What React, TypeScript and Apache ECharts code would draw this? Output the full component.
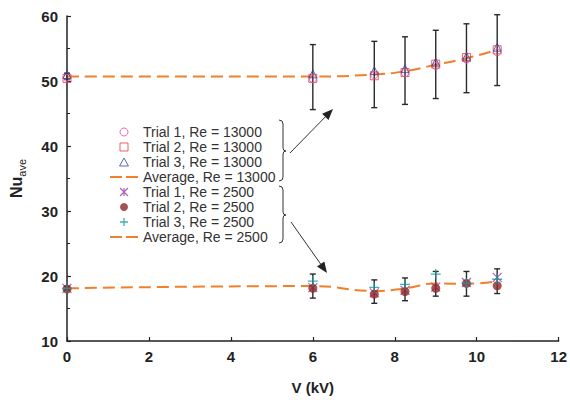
import React, { useEffect, useRef } from "react";
import * as echarts from "echarts";

// ---- data ----
const voltages = [0, 6, 7.5, 8.25, 9, 9.75, 10.5];

const hiTrial1 = [50.5, 50.3, 50.9, 51.2, 52.3, 53.3, 54.4];
const hiTrial2 = [50.4, 50.4, 50.8, 51.3, 52.6, 53.6, 54.8];
const hiTrial3 = [51.0, 51.1, 51.6, 51.9, 52.9, 53.8, 55.2];
const hiAverage = [50.7, 50.7, 51.0, 51.5, 52.5, 53.5, 54.8];
const hiErrLow = [50.3, 45.6, 45.9, 46.4, 47.3, 48.2, 49.3];
const hiErrHigh = [51.2, 55.6, 56.1, 56.8, 57.8, 58.8, 60.2];

const loTrial1 = [18.1, 18.2, 17.4, 17.8, 18.3, 19.0, 19.8];
const loTrial2 = [18.0, 18.1, 17.2, 17.6, 18.1, 18.85, 18.5];
const loTrial3 = [18.1, 19.2, 18.25, 18.7, 20.3, 18.85, 19.5];
const loAverage = [18.1, 18.45, 17.7, 18.1, 18.85, 18.8, 19.2];
const loErrLow = [17.8, 16.6, 15.8, 16.2, 16.9, 16.9, 17.3];
const loErrHigh = [18.4, 20.3, 19.4, 19.7, 20.7, 20.7, 21.1];

const seriesNames = [
  "Trial 1, Re = 13000",
  "Trial 2, Re = 13000",
  "Trial 3, Re = 13000",
  "Average, Re = 13000",
  "Trial 1, Re = 2500",
  "Trial 2, Re = 2500",
  "Trial 3, Re = 2500",
  "Average, Re = 2500",
];

const xTicks = { min: 0, max: 12, interval: 2 };
const yTicks = { min: 10, max: 60, interval: 10 };

// ---- styles ----
const FONT = 'Arial, "Liberation Sans", Helvetica, sans-serif';
const C_CIRCLE = "#e8489c";
const C_SQUARE = "#e63946";
const C_TRI = "#3b43a0";
const C_STAR = "#9b3fa0";
const C_DOT = "#8c2a28";
const C_PLUS = "#169ba0";
const C_AVG = "#f0802a";
const C_INK = "#222";

const ASTERISK = "path://M0,0L10,10M10,0L0,10M5,0L5,10";
const PLUS = "path://M5,0L5,10M0,5L10,5";
const SQUARE = "path://M0,0L10,0L10,10L0,10Z";
const TRIANGLE = "path://M5,0L10,9L0,9Z";
const DASHES = "path://M0,0h12v2h-12zM16,0h12v2h-12z";

function bracePath(h: number, t: number) {
  return `M0,0 Q4,0 4,4 L4,${t - 3} Q4,${t} 7,${t} Q4,${t} 4,${t + 3} L4,${h - 4} Q4,${h} 0,${h}`;
}

let registered = false;
function registerShapes() {
  if (registered) return;
  registered = true;
  echarts.graphic.registerShape("braceUpper", echarts.graphic.extendPath(bracePath(61, 31), {}) as any);
  echarts.graphic.registerShape("braceLower", echarts.graphic.extendPath(bracePath(57, 29), {}) as any);
}

function arrow(x1: number, y1: number, x2: number, y2: number) {
  const dx = x2 - x1, dy = y2 - y1;
  const len = Math.sqrt(dx * dx + dy * dy);
  const ux = dx / len, uy = dy / len;
  const L = 11, W = 4.5;
  const bx = x2 - ux * L, by = y2 - uy * L;
  const nx = -uy * W, ny = ux * W;
  return [
    { type: "line", shape: { x1, y1, x2: bx, y2: by }, style: { stroke: "#333", lineWidth: 1 }, z: 100 },
    {
      type: "polygon",
      shape: { points: [[x2, y2], [bx + nx, by + ny], [bx - nx, by - ny]] },
      style: { fill: "#222" },
      z: 100,
    },
  ];
}

function scatterData(ys: number[]) {
  return voltages.map((x, i) => [x, ys[i]]);
}

function errData(lo: number[], hi: number[]) {
  return voltages.map((x, i) => [x, lo[i], hi[i]]);
}

const errorRender = (params: any, api: any) => {
  const x = api.value(0);
  const p1 = api.coord([x, api.value(1)]);
  const p2 = api.coord([x, api.value(2)]);
  const w = 3;
  const st = { stroke: "#2a2a2a", lineWidth: 1.4 };
  return {
    type: "group",
    children: [
      { type: "line", shape: { x1: p1[0], y1: p1[1], x2: p2[0], y2: p2[1] }, style: st },
      { type: "line", shape: { x1: p1[0] - w, y1: p1[1], x2: p1[0] + w, y2: p1[1] }, style: st },
      { type: "line", shape: { x1: p2[0] - w, y1: p2[1], x2: p2[0] + w, y2: p2[1] }, style: st },
    ],
  };
};

export default function App() {
  const ref = useRef<HTMLDivElement>(null);

  useEffect(() => {
    if (!ref.current) return;
    registerShapes();
    const chart = echarts.init(ref.current, null, { renderer: "svg" });

    const hollow = (c: string) => ({ color: "rgba(255,255,255,0)", borderColor: c, borderWidth: 1 });
    const legendText = { fontFamily: FONT, fontSize: 14, color: "#333", lineHeight: 14 };

    const option: any = {
      animation: false,
      backgroundColor: "#fff",
      textStyle: { fontFamily: FONT },
      grid: { left: 63, right: 9, top: 16, bottom: 56, containLabel: false },
      legend: {
        orient: "vertical",
        left: 110,
        top: 125,
        itemWidth: 28,
        itemHeight: 8,
        itemGap: 1,
        selectedMode: false,
        padding: 0,
        symbolKeepAspect: true,
        textStyle: legendText,
        data: [
          { name: seriesNames[0], icon: "circle", itemStyle: { color: "#fff", borderColor: C_CIRCLE, borderWidth: 1 }, textStyle: legendText },
          { name: seriesNames[1], icon: SQUARE, itemStyle: { color: "#fff", borderColor: C_SQUARE, borderWidth: 1 }, textStyle: legendText },
          { name: seriesNames[2], icon: TRIANGLE, itemStyle: { color: "#fff", borderColor: C_TRI, borderWidth: 1 }, textStyle: legendText },
          { name: seriesNames[3], icon: DASHES, itemStyle: { color: C_AVG, borderWidth: 0 }, textStyle: legendText },
          { name: seriesNames[4], icon: ASTERISK, itemStyle: { color: "none", borderColor: C_STAR, borderWidth: 1.2 }, textStyle: legendText },
          { name: seriesNames[5], icon: "circle", itemStyle: { color: C_DOT, borderWidth: 0 }, textStyle: legendText },
          { name: seriesNames[6], icon: PLUS, itemStyle: { color: "none", borderColor: C_PLUS, borderWidth: 1.3 }, textStyle: legendText },
          { name: seriesNames[7], icon: DASHES, itemStyle: { color: C_AVG, borderWidth: 0 }, textStyle: legendText },
        ],
      },
      xAxis: {
        type: "value",
        min: xTicks.min,
        max: xTicks.max,
        interval: xTicks.interval,
        name: "V (kV)",
        nameLocation: "middle",
        nameGap: 39,
        nameTextStyle: { fontFamily: FONT, fontSize: 15, fontWeight: "bold", color: C_INK },
        axisLine: { lineStyle: { color: C_INK, width: 1.5 } },
        axisTick: { inside: true, length: 4, lineStyle: { color: C_INK, width: 1.2 } },
        axisLabel: { fontFamily: FONT, fontSize: 15, fontWeight: "bold", color: C_INK, margin: 8 },
        splitLine: { show: false },
      },
      yAxis: {
        type: "value",
        min: yTicks.min,
        max: yTicks.max,
        interval: yTicks.interval,
        name: "{a|Nu}{b|ave}",
        nameLocation: "middle",
        nameGap: 40,
        nameRotate: 90,
        nameTextStyle: {
          rich: {
            a: { fontFamily: FONT, fontSize: 16, fontWeight: "bold", color: C_INK, lineHeight: 22, verticalAlign: "middle" },
            b: { fontFamily: FONT, fontSize: 11, color: C_INK, lineHeight: 11, verticalAlign: "bottom" },
          },
        },
        axisLine: { lineStyle: { color: C_INK, width: 1.5 } },
        axisTick: { inside: true, length: 4, lineStyle: { color: C_INK, width: 1.2 } },
        minorTick: { show: true, splitNumber: 2, length: 3, lineStyle: { color: C_INK, width: 1 } },
        axisLabel: { fontFamily: FONT, fontSize: 15, fontWeight: "bold", color: C_INK, margin: 9 },
        splitLine: { show: false },
      },
      series: [
        {
          name: seriesNames[3], type: "line", data: scatterData(hiAverage), smooth: true,
          symbol: "none", showSymbol: false, z: 1,
          lineStyle: { color: C_AVG, width: 2, type: [12, 6] }, itemStyle: { color: C_AVG },
        },
        {
          name: seriesNames[7], type: "line", data: scatterData(loAverage), smooth: true,
          symbol: "none", showSymbol: false, z: 1,
          lineStyle: { color: C_AVG, width: 2, type: [12, 6] }, itemStyle: { color: C_AVG },
        },
        { name: "errHigh", type: "custom", renderItem: errorRender, data: errData(hiErrLow, hiErrHigh), encode: { x: 0, y: [1, 2] }, z: 2 },
        { name: "errLow", type: "custom", renderItem: errorRender, data: errData(loErrLow, loErrHigh), encode: { x: 0, y: [1, 2] }, z: 2 },
        { name: seriesNames[1], type: "scatter", data: scatterData(hiTrial2), symbol: "rect", symbolSize: 8, itemStyle: hollow(C_SQUARE), z: 3 },
        { name: seriesNames[0], type: "scatter", data: scatterData(hiTrial1), symbol: "circle", symbolSize: 7, itemStyle: hollow(C_CIRCLE), z: 3 },
        { name: seriesNames[2], type: "scatter", data: scatterData(hiTrial3), symbol: "triangle", symbolSize: 8, itemStyle: hollow(C_TRI), z: 3 },
        { name: seriesNames[4], type: "scatter", data: scatterData(loTrial1), symbol: ASTERISK, symbolSize: 9, itemStyle: { color: "none", borderColor: C_STAR, borderWidth: 1.2 }, z: 3 },
        { name: seriesNames[5], type: "scatter", data: scatterData(loTrial2), symbol: "circle", symbolSize: 9, itemStyle: { color: C_DOT }, z: 4 },
        { name: seriesNames[6], type: "scatter", data: scatterData(loTrial3), symbol: PLUS, symbolSize: 10, itemStyle: { color: "none", borderColor: C_PLUS, borderWidth: 1.3 }, z: 5 },
      ],
      graphic: [
        { type: "braceUpper", x: 279, y: 120, style: { stroke: "#333", lineWidth: 1, fill: "none" }, z: 100 },
        { type: "braceLower", x: 279, y: 186, style: { stroke: "#333", lineWidth: 1, fill: "none" }, z: 100 },
        ...arrow(290, 153, 333, 109),
        ...arrow(291, 222, 327, 273),
      ],
    };

    chart.setOption(option);
    return () => chart.dispose();
  }, []);

  return (
    <div
      ref={ref}
      style={{ position: "fixed", left: 0, top: 0, width: 570, height: 400, background: "#fff" }}
    />
  );
}
